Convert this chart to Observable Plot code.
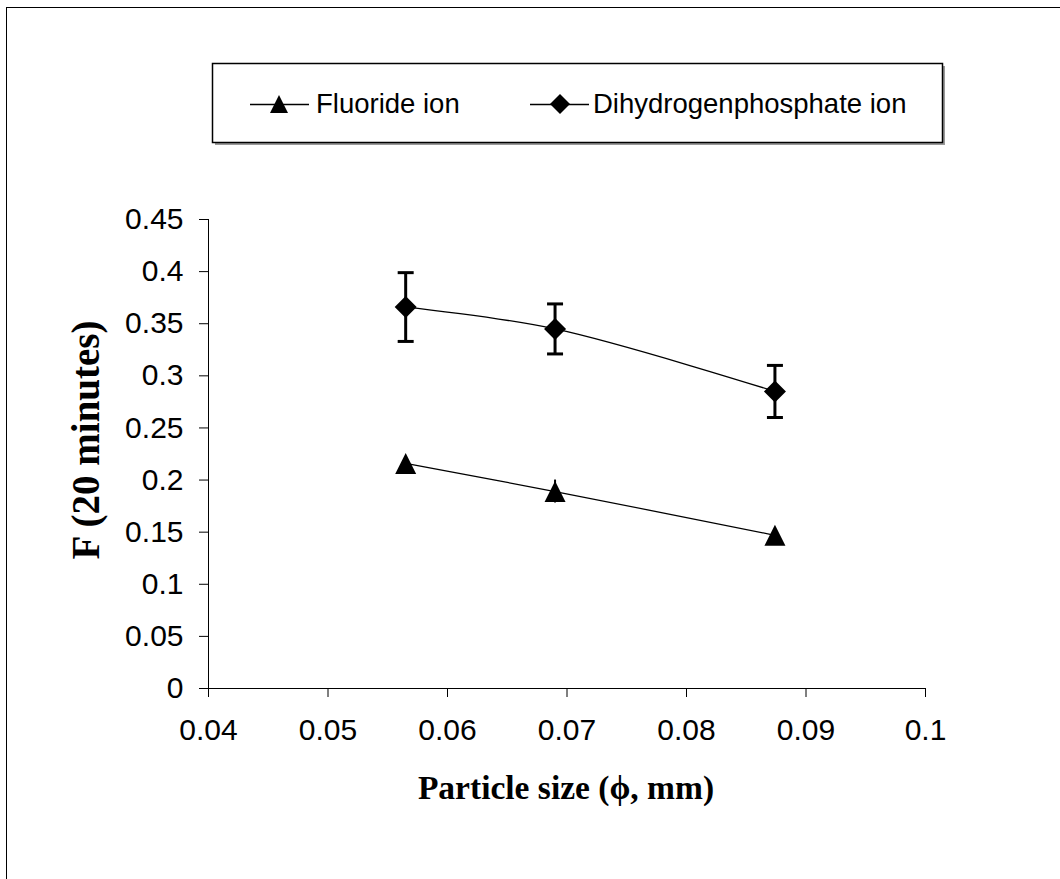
<!DOCTYPE html>
<html>
<head>
<meta charset="utf-8">
<script src="https://cdn.jsdelivr.net/npm/d3@7"></script>
<script src="https://cdn.jsdelivr.net/npm/@observablehq/plot@0.6"></script>
<style>
  html, body { margin: 0; padding: 0; background: #fff; overflow: hidden; }
  #wrap { position: relative; width: 1060px; height: 879px; overflow: hidden; }
  #frame { position: absolute; left: 6px; top: 7px; width: 1200px; height: 1000px; border: 1.5px solid #000; box-sizing: border-box; }
  #chart, #overlay { position: absolute; left: 0; top: 0; }
</style>
</head>
<body>
<div id="wrap">
  <div id="frame"></div>
  <div id="chart"></div>
  <svg id="overlay" width="1060" height="879"></svg>
</div>
<script>
// ---- data ----
const particleSize = [0.0565, 0.069, 0.0874];
const fluoride = [0.216, 0.189, 0.147];
const fluorideErr = [0, 0.011, 0];
const phosphate = [0.366, 0.345, 0.285];
const phosphateErr = [0.033, 0.024, 0.025];
const seriesNames = ["Fluoride ion", "Dihydrogenphosphate ion"];
const xTicks = [0.04, 0.05, 0.06, 0.07, 0.08, 0.09, 0.1];
const yTicks = [0, 0.05, 0.1, 0.15, 0.2, 0.25, 0.3, 0.35, 0.4, 0.45];
const xTitle = "Particle size (\u03D5, mm)";
const yTitle = "F (20 minutes)";

// ---- custom symbols ----
const triangleSym = { draw(ctx, size) { const r = Math.sqrt(size / Math.PI); ctx.moveTo(0, -r); ctx.lineTo(r, r); ctx.lineTo(-r, r); ctx.closePath(); } };
const diamondSym = { draw(ctx, size) { const r = Math.sqrt(size / Math.PI); ctx.moveTo(0, -r); ctx.lineTo(r, 0); ctx.lineTo(0, r); ctx.lineTo(-r, 0); ctx.closePath(); } };
const capSym = { draw(ctx, size) { const r = Math.sqrt(size / Math.PI); ctx.moveTo(-r, 0); ctx.lineTo(r, 0); } };

const fl = particleSize.map((x, i) => ({ series: seriesNames[0], x, y: fluoride[i], e: fluorideErr[i] }));
const ph = particleSize.map((x, i) => ({ series: seriesNames[1], x, y: phosphate[i], e: phosphateErr[i] }));
const flErr = fl.filter(d => d.e > 0);

const FONT = "'Liberation Sans', Arial, sans-serif";
const SERIF = "'Liberation Serif', 'Times New Roman', serif";
const chart = Plot.plot({
  width: 1060,
  height: 879,
  marginLeft: 208,
  marginRight: 135,
  marginTop: 219,
  marginBottom: 191,
  style: { fontFamily: FONT, fontSize: "30px", color: "#000", background: "transparent", overflow: "visible" },
  x: { domain: [0.04, 0.1] },
  y: { domain: [0, 0.45] },
  marks: [
    Plot.axisY({ ticks: yTicks, tickFormat: d => String(d), tickSize: 9, tickPadding: 16, label: null, stroke: "#000", strokeOpacity: 1, fill: "#000" }),
    Plot.axisX({ ticks: xTicks, tickFormat: d => String(d), tickSize: 9, tickPadding: 21, label: null, stroke: "#000", strokeOpacity: 1, fill: "#000" }),
    Plot.ruleX([0.04], { stroke: "#000", strokeWidth: 1 }),
    Plot.ruleY([0], { stroke: "#000", strokeWidth: 1 }),
    Plot.line(fl, { x: "x", y: "y", curve: "catmull-rom", stroke: "#000", strokeWidth: 1.3 }),
    Plot.line(ph, { x: "x", y: "y", curve: "catmull-rom", stroke: "#000", strokeWidth: 1.3 }),
    Plot.ruleX(flErr, { x: "x", y1: d => d.y - d.e, y2: d => d.y + d.e, stroke: "#000", strokeWidth: 2 }),
    Plot.ruleX(ph, { x: "x", y1: d => d.y - d.e, y2: d => d.y + d.e, stroke: "#000", strokeWidth: 3 }),
    Plot.dot(ph, { x: "x", y: d => d.y + d.e, symbol: capSym, r: 8, stroke: "#000", strokeWidth: 3, fill: "none" }),
    Plot.dot(ph, { x: "x", y: d => d.y - d.e, symbol: capSym, r: 8, stroke: "#000", strokeWidth: 3, fill: "none" }),
    Plot.dot(fl, { x: "x", y: "y", symbol: triangleSym, r: 10.5, fill: "#000", stroke: "none" }),
    Plot.dot(ph, { x: "x", y: "y", symbol: diamondSym, r: 11, fill: "#000", stroke: "none" })
  ]
});
document.getElementById("chart").appendChild(chart);

// ---- overlay: legend and axis titles ----
const ov = d3.select("#overlay");
ov.append("rect").attr("x", 215).attr("y", 66).attr("width", 730).attr("height", 79).attr("fill", "#999");
ov.append("rect").attr("x", 212.5).attr("y", 63.5).attr("width", 730).attr("height", 79).attr("fill", "#fff").attr("stroke", "#000").attr("stroke-width", 1.5);
const legendItems = [
  { name: seriesNames[0], sym: triangleSym, x1: 250, x2: 309, cx: 279, r: 9, tx: 316 },
  { name: seriesNames[1], sym: diamondSym, x1: 530, x2: 589, cx: 560, r: 10, tx: 593 }
];
legendItems.forEach(it => {
  ov.append("line").attr("x1", it.x1).attr("x2", it.x2).attr("y1", 104.5).attr("y2", 104.5).attr("stroke", "#000").attr("stroke-width", 1.3);
  ov.append("path").attr("d", d3.symbol(it.sym, Math.PI * it.r * it.r)()).attr("transform", `translate(${it.cx},${104})`).attr("fill", "#000");
  ov.append("text").attr("x", it.tx).attr("y", 113).attr("font-family", FONT).attr("font-size", 27.5).attr("fill", "#000").text(it.name);
});
ov.append("text").attr("x", 566).attr("y", 799).attr("text-anchor", "middle")
  .attr("font-family", SERIF).attr("font-weight", "bold").attr("font-size", 33.5).attr("fill", "#000").text(xTitle);
ov.append("text").attr("transform", "translate(99,440) rotate(-90)").attr("text-anchor", "middle")
  .attr("font-family", SERIF).attr("font-weight", "bold").attr("font-size", 39).attr("fill", "#000").text(yTitle);
</script>
</body>
</html>
